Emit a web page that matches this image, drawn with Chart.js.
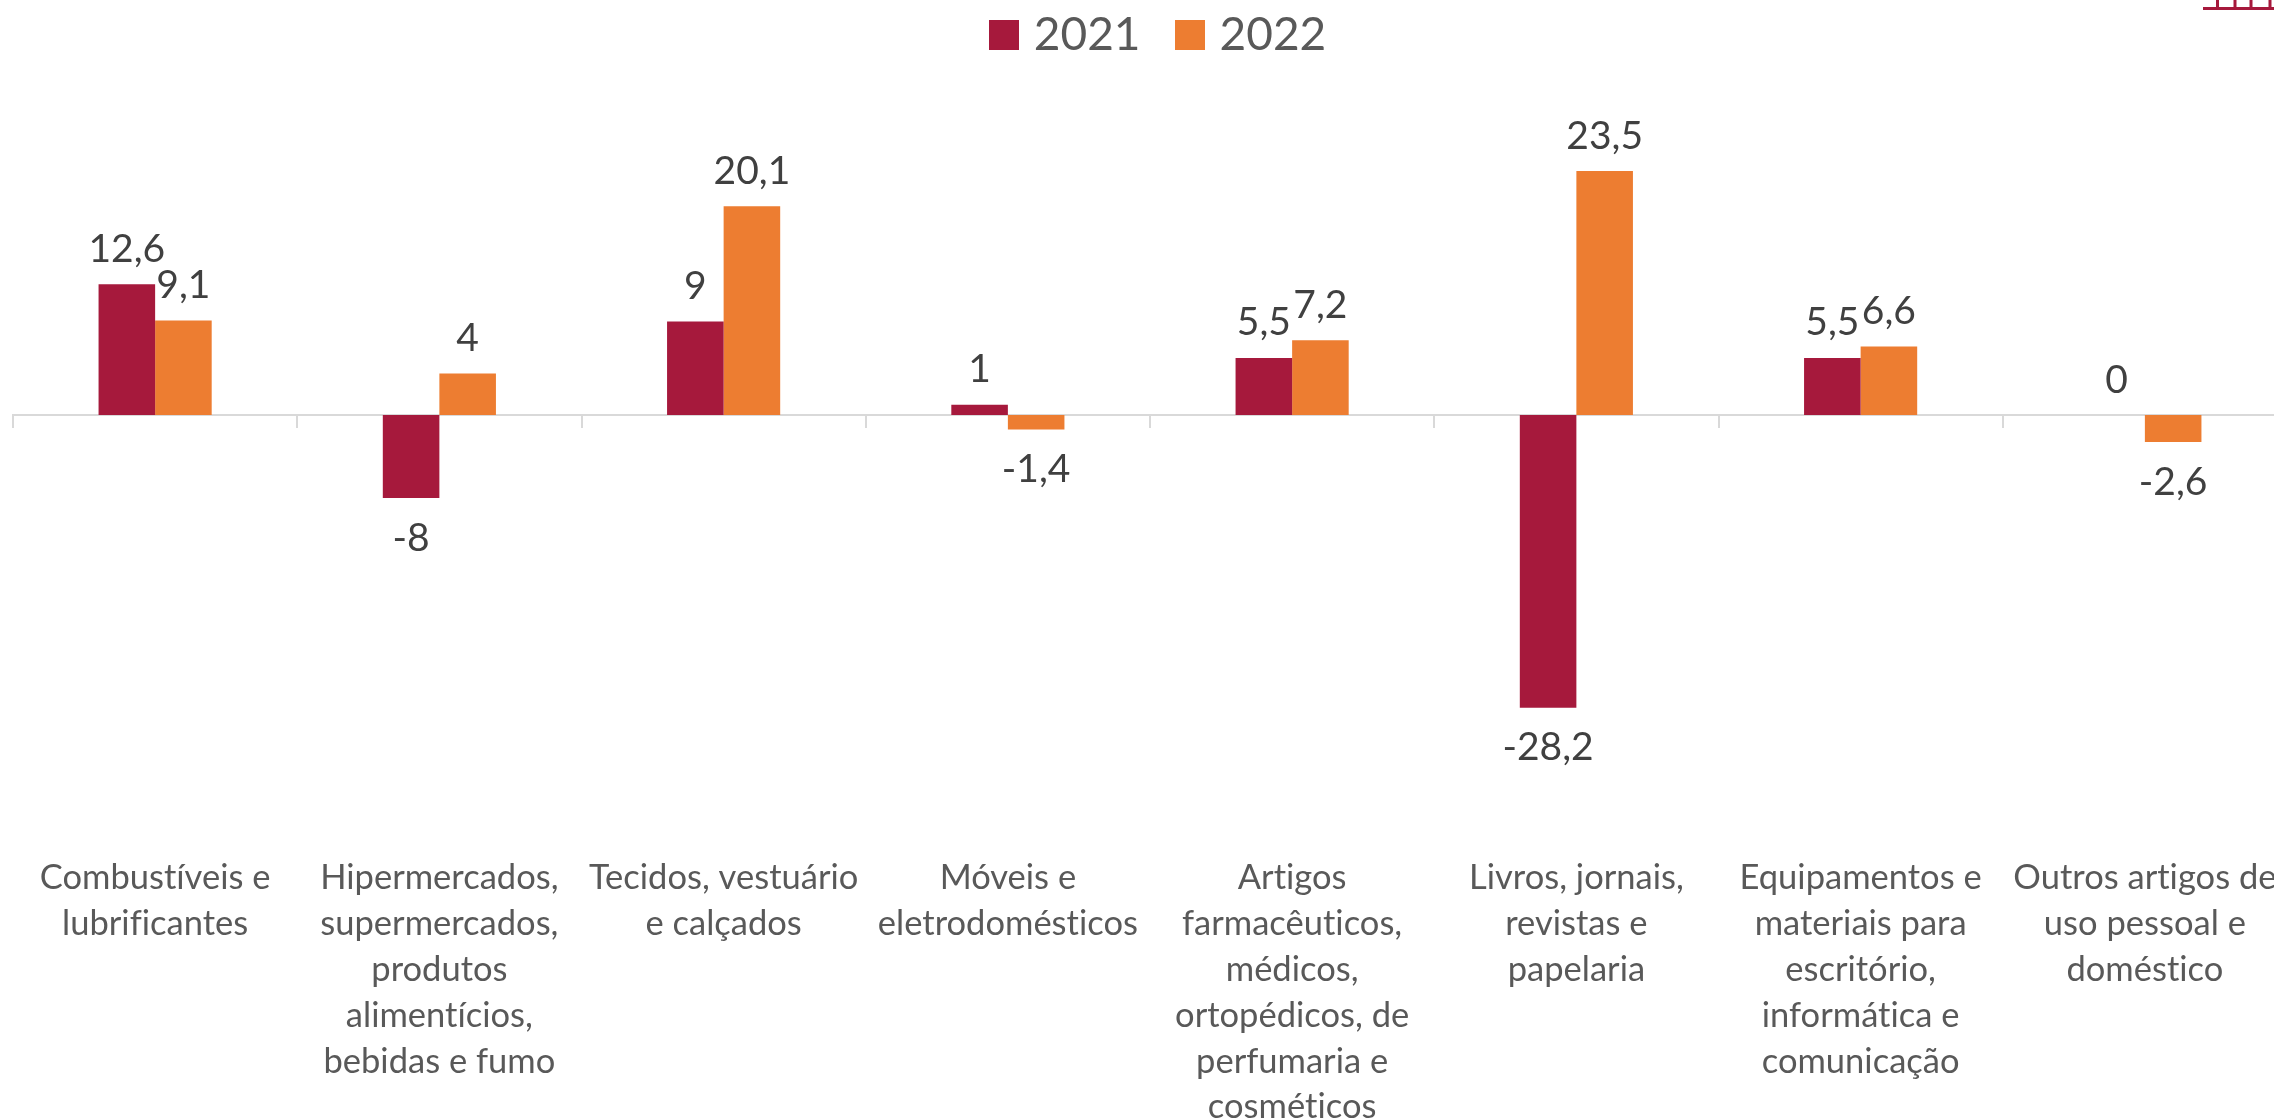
<!DOCTYPE html>
<html>
<head>
<meta charset="utf-8">
<title>Varejo 2021 e 2022</title>
<script src="https://cdn.jsdelivr.net/npm/chart.js@4/dist/chart.umd.min.js"></script>
<style>
  html, body { margin: 0; padding: 0; background: #fff; overflow: hidden; width: 2274px; height: 1120px; }
  #wrap { position: relative; width: 2274px; height: 1120px; overflow: hidden; }
  #activityChart { position: absolute; left: 0; top: 0; }
  #corner { position: absolute; left: 0; top: 0; }
</style>
</head>
<body>
<div id="wrap">
  <canvas id="activityChart" width="2316" height="1120"></canvas>
  <!-- piece of the logo that is cut off in the top right corner -->
  <svg id="corner" width="2274" height="12">
    <path d="M2203 8.5H2274M2217.5 0V8M2235 0V8M2251 0V8M2270 0V8" stroke="#A6193C" stroke-width="3" fill="none"/>
  </svg>
</div>
<script>
const categories = [
  ['Combustíveis e', 'lubrificantes'],
  ['Hipermercados,', 'supermercados,', 'produtos', 'alimentícios,', 'bebidas e fumo'],
  ['Tecidos, vestuário', 'e calçados'],
  ['Móveis e', 'eletrodomésticos'],
  ['Artigos', 'farmacêuticos,', 'médicos,', 'ortopédicos, de', 'perfumaria e', 'cosméticos'],
  ['Livros, jornais,', 'revistas e', 'papelaria'],
  ['Equipamentos e', 'materiais para', 'escritório,', 'informática e', 'comunicação'],
  ['Outros artigos de', 'uso pessoal e', 'doméstico']
];
const values2021 = [12.6, -8, 9, 1, 5.5, -28.2, 5.5, 0];
const values2022 = [9.1, 4, 20.1, -1.4, 7.2, 23.5, 6.6, -2.6];

const RED = '#A6193C';
const ORANGE = '#ED7D31';
const FONT = 'Lato, Carlito, Calibri, sans-serif';

// square legend marker, the built-in box leaves too wide a gap before the text
function swatch(color) {
  const c = document.createElement('canvas');
  c.width = 30;
  c.height = 30;
  const g = c.getContext('2d');
  g.fillStyle = color;
  g.fillRect(0, 0, 30, 30);
  return c;
}

// --- DATA LABELS (outside end of each bar) ---
const barLabels = {
  id: 'barLabels',
  afterDatasetsDraw(chart) {
    const ctx = chart.ctx;
    ctx.save();
    ctx.font = '39px ' + FONT;
    ctx.fillStyle = '#404040';
    ctx.textAlign = 'center';
    ctx.textBaseline = 'middle';
    chart.data.datasets.forEach((ds, i) => {
      chart.getDatasetMeta(i).data.forEach((bar, j) => {
        const v = ds.data[j];
        const y = v < 0 ? bar.y + 40 : bar.y - 35;
        ctx.fillText(String(v).replace('.', ','), bar.x, y);
      });
    });
    ctx.restore();
  }
};

const tweaks = {
  id: 'tweaks',
  // legend is not centred on the plot in the original
  afterLayout(chart) { chart.legend.left += 23; },
  // stops Lato joining "ti" and "fi"
  beforeDraw(chart) { chart.ctx.letterSpacing = '0.01px'; }
};

new Chart(document.getElementById('activityChart').getContext('2d'), {
  type: 'bar',
  data: {
    labels: categories,
    datasets: [
      { label: '2021', data: values2021, backgroundColor: RED, pointStyle: swatch(RED), barPercentage: 1, categoryPercentage: 0.398 },
      { label: '2022', data: values2022, backgroundColor: ORANGE, pointStyle: swatch(ORANGE), barPercentage: 1, categoryPercentage: 0.398 }
    ]
  },
  options: {
    responsive: false,
    animation: false,
    layout: { padding: { left: 13, right: 29, top: -30, bottom: 0 } },
    plugins: {
      tooltip: { enabled: false },
      legend: {
        position: 'top',
        labels: {
          font: { family: FONT, size: 46 },
          color: '#595959',
          usePointStyle: true,
          pointStyleWidth: 14,
          boxHeight: 30,
          padding: 42
        }
      }
    },
    scales: {
      y: { display: false, min: -40.46, max: 33.43 },
      x: {
        position: { y: 0 },
        ticks: { display: false },
        grid: { drawOnChartArea: false, color: '#D9D9D9', lineWidth: 2, tickLength: 12, offset: true },
        border: { color: '#D9D9D9', width: 2 }
      },
      xLabels: {
        type: 'category',
        axis: 'x',
        position: 'bottom',
        offset: true,
        labels: categories,
        grid: { display: false },
        border: { display: false },
        afterFit(scale) { scale.height = 285; },
        ticks: {
          autoSkip: false,
          maxRotation: 0,
          minRotation: 0,
          padding: 12,
          color: '#595959',
          font: { family: FONT, size: 34.5, lineHeight: 1.33 }
        }
      }
    }
  },
  plugins: [barLabels, tweaks]
});
</script>
</body>
</html>
